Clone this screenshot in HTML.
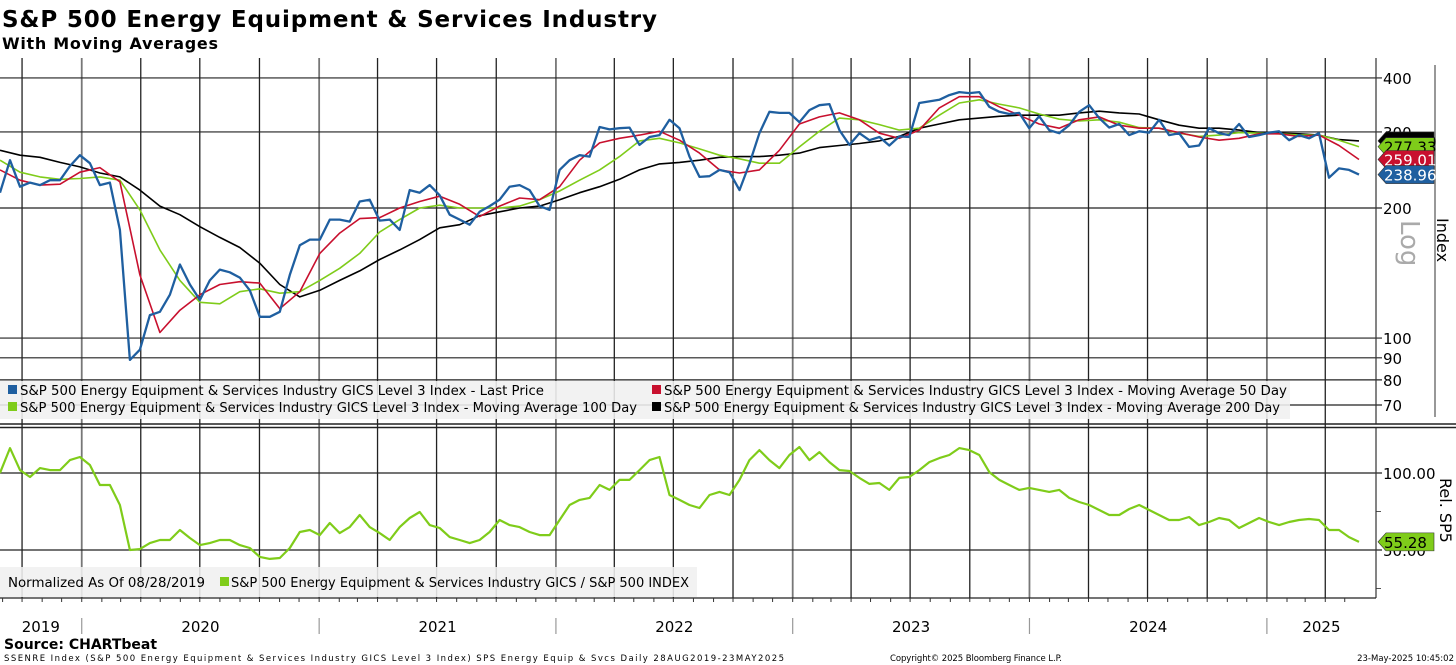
<!DOCTYPE html>
<html><head><meta charset="utf-8"><style>
html,body{margin:0;padding:0;background:#fff;}
svg{display:block;font-family:"DejaVu Sans","Liberation Sans",sans-serif;}
</style></head><body>
<svg id="chart" width="1456" height="665" viewBox="0 0 1456 665">
<text x="2" y="27" font-size="23" font-weight="bold" textLength="655">S&amp;P 500 Energy Equipment &amp; Services Industry</text>
<text x="2" y="49" font-size="16" font-weight="bold" textLength="216">With Moving Averages</text>
<g id="grid"></g>
<g id="top"></g>
<g id="bot"></g>
<g id="axes"></g>
<text x="4" y="649" font-size="14" font-weight="bold">Source: CHARTbeat</text>
<text x="4" y="661" font-size="8.5" textLength="780">SSENRE Index (S&amp;P 500 Energy Equipment &amp; Services Industry GICS Level 3 Index) SPS Energy Equip &amp; Svcs  Daily 28AUG2019-23MAY2025</text>
<text x="890" y="661" font-size="8.5" textLength="172">Copyright© 2025 Bloomberg Finance L.P.</text>
<text x="1454" y="661" font-size="8.5" text-anchor="end">23-May-2025 10:45:02</text>
</svg>
<script>
const startDate = "2019-08-28";
const endDate = "2025-05-23";
const lastPrice = [217,258,224,229,226,232,232,250,265,254,226,229,178,89,94,113,115,126,148,133,122.5,136,144,142,138,129,112,112,115,140,164,169,169,188,188,186,207,209,187,188,178,220,217,226,214,193,188,183,196,202,209,224,226,220,202,198,245,258,265,263,308,304,306,307,280,292,295,320,306,263,236,237,245,242,220,253,298,334,332,332,316,337,346,348,303,280,298,287,292,279,293,292,350,353,356,365,371,369,371,343,334,330,332,306,326,303,298,311,334,346,323,307,313,295,301,299,320,295,298,277,279,306,298,295,313,292,295,299,301,287,295,290,298,235,247,245,238.96];
const ma50 = [245,232,226,227,242,248,230,140,103,116,126,133,135,134,117,128,157,175,189,190,200,207,213,204,191,202,211,209,224,258,283,290,295,301,287,268,245,241,245,272,313,325,332,320,298,290,303,341,362,362,343,328,313,306,320,325,311,306,306,299,292,287,290,297,297,293,295,279,259.01];
const ma100 = [258,242,236,233,234,236,232,198,160,136,121,120,128,130,127,128,136,145,157,176,188,200,203,200,200,200,202,209,219,232,245,263,286,290,283,274,265,260,254,254,277,301,323,320,312,303,306,328,350,356,348,341,330,321,318,320,316,307,306,298,293,295,299,298,297,295,295,287,277.33];
const ma200 = [272,265,262,255,249,241,236,220,202,193,181,171,162,149,133,124.5,129,136,143,152,160,169,180,183,192,196,200,202,209,217,224,233,245,253,255,258,262,263,263,265,268,276,279,282,286,293,306,313,320,323,326,328,328,328,332,335,332,330,320,311,306,306,303,299,298,297,295,288,286];
const relSP5 = [100,116.2,101.9,97.4,103.2,101.9,101.9,108.4,110.4,105.2,92.2,92.2,79.2,50,50.6,54.5,56.5,56.5,63,57.8,53.2,54.5,56.5,56.5,53.2,51.3,45.5,44.2,44.8,51.3,61.7,63,59.7,67.5,61,64.9,72.7,64.9,61,56.5,64.9,70.8,74.7,66.2,64.3,58.4,56.5,54.5,56.5,61.7,69.5,66.2,64.9,61.7,59.7,59.7,69.5,79.2,82.5,83.8,92.2,89,95.5,95.5,101.9,108.4,110.4,85.7,82.5,79.2,77.3,85.7,87.7,85.7,95.5,108.4,114.9,108.4,103.2,111.7,116.9,108.4,113.6,107.1,101.9,101.3,96.8,92.9,93.5,89,96.8,97.4,101.9,107.1,109.7,111.7,116.2,114.9,111.7,100.6,95.5,92.2,89,90.3,89,87.7,89,83.8,81.2,79.2,76,72.7,72.7,76.6,79.2,76,72.7,69.5,69.5,71.4,66.2,68.2,70.8,69.5,64.3,67.5,70.8,68.2,66.2,68.2,69.5,70.1,69.5,63,63,58.4,55.28];
const priceTicks = [400,300,200,100,90,80,70];
const relTicks = [100,50];
const relMinorTicks = [75,25];
const yearLabels = ["2019","2020","2021","2022","2023","2024","2025"];

const NS="http://www.w3.org/2000/svg";
const DAY=86400000;
const t0=Date.parse(startDate), t1=Date.parse(endDate);
const pxPerDay=1359/((t1-t0)/DAY);
function xScale(ms){return (ms-t0)/DAY*pxPerDay;}
function yPrice(v){return 208-432*Math.log10(v/200);}
function yRel(v){return 473+(100-v)*77/50;}
const PR=1376;
function mk(tag,attrs,parent){const e=document.createElementNS(NS,tag);for(const k in attrs)e.setAttribute(k,attrs[k]);parent.appendChild(e);return e;}
const grid=document.getElementById('grid'),top_=document.getElementById('top'),bot=document.getElementById('bot'),axes=document.getElementById('axes');

for(let y=2019;y<=2025;y++){for(let q=0;q<4;q++){
  const ms=Date.UTC(y,q*3,1); if(ms<t0||ms>t1)continue;
  const x=xScale(ms);
  const l=mk('line',{x1:x,x2:x,y1:58,y2:598,stroke:(q===0?'#777':'#222'),'stroke-width':(q===0?1.8:1.3)},grid);
  
  
}}
priceTicks.forEach(v=>{const y=yPrice(v);
  const l=mk('line',{x1:0,x2:PR+6,y1:y,y2:y,stroke:'#222','stroke-width':1.2},grid);
  
  
  const t=mk('text',{x:PR+7,y:y+6,'font-size':15},axes);t.textContent=v;
  
  
});
relTicks.forEach(v=>{const y=yRel(v);
  const l=mk('line',{x1:0,x2:PR+6,y1:y,y2:y,stroke:'#222','stroke-width':1.2},grid);
  
  
  const t=mk('text',{x:PR+7,y:y+6,'font-size':15},axes);t.textContent=v.toFixed(2);
  
  
});
relMinorTicks.forEach(v=>{const y=yRel(v);mk('line',{x1:PR,x2:PR+5,y1:y,y2:y,stroke:'#555'},axes);});

function series(arr,yf,parent,color,w,name){
  const n=arr.length;let d='';
  arr.forEach((v,i)=>{const x=xScale(t0+(t1-t0)*i/(n-1));d+=(i?'L':'M')+x.toFixed(1)+','+yf(v).toFixed(1);});
  const p=mk('path',{d:d,fill:'none',stroke:color,'stroke-width':w,'stroke-linejoin':'round'},parent);
  
  
}
series(ma200,yPrice,top_,'#000',1.6,'ma200-line');
series(ma100,yPrice,top_,'#7fcc1a',1.6,'ma100-line');
series(ma50,yPrice,top_,'#c8102e',1.6,'ma50-line');
series(lastPrice,yPrice,top_,'#1f5fa0',2.3,'last-price-line');
series(relSP5,yRel,bot,'#7fcc1a',2.2,'relative-line');

mk('line',{x1:PR,x2:PR,y1:58,y2:424,stroke:'#333','stroke-width':1.2},axes);
mk('line',{x1:PR,x2:PR,y1:428,y2:598,stroke:'#333','stroke-width':1.2},axes);
mk('line',{x1:0,x2:1456,y1:424,y2:424,stroke:'#222','stroke-width':1.5},axes);
mk('line',{x1:0,x2:1456,y1:427.5,y2:427.5,stroke:'#222','stroke-width':1.5},axes);
mk('line',{x1:0,x2:PR,y1:598,y2:598,stroke:'#222','stroke-width':1.2},axes);
for(let y=2019;y<=2025;y++)for(let m=0;m<12;m++){const ms=Date.UTC(y,m,1);if(ms<t0||ms>t1)continue;mk('line',{x1:xScale(ms),x2:xScale(ms),y1:598,y2:602,stroke:'#333'},axes);}
mk('line',{x1:1435,x2:1435,y1:65,y2:417,stroke:'#777','stroke-width':1.5},axes);

yearLabels.forEach((yl,i)=>{const y=+yl;
  const a=Math.max(t0,Date.UTC(y,0,1)),b=Math.min(t1,Date.UTC(y+1,0,1));
  let xa=xScale(a),xb=(y===2025?PR:xScale(b));
  const t=mk('text',{x:(xa+xb)/2,y:632,'font-size':15,'text-anchor':'middle'},axes);t.textContent=yl;
  
  
  if(y>2019){mk('line',{x1:xa,x2:xa,y1:618,y2:634,stroke:'#999','stroke-width':1.2},axes);}
});

const lg=mk('g',{},axes);
mk('rect',{x:0,y:381,width:1290,height:38,fill:'rgba(240,240,240,0.88)'},lg);
const leg=[[8,390,'#1f5fa0','S&P 500 Energy Equipment & Services Industry GICS Level 3 Index - Last Price',524],
 [652,390,'#c8102e','S&P 500 Energy Equipment & Services Industry GICS Level 3 Index - Moving Average 50 Day',623],
 [8,407,'#7fcc1a','S&P 500 Energy Equipment & Services Industry GICS Level 3 Index - Moving Average 100 Day',617],
 [652,407,'#000','S&P 500 Energy Equipment & Services Industry GICS Level 3 Index - Moving Average 200 Day',616]];
leg.forEach(e=>{mk('rect',{x:e[0],y:e[1]-5,width:9,height:9,fill:e[2]},lg);
  const t=mk('text',{x:e[0]+12,y:e[1]+5,'font-size':13,textLength:e[4],lengthAdjust:'spacingAndGlyphs'},lg);t.textContent=e[3];
  
  });
const lg2=mk('g',{},axes);
mk('rect',{x:0,y:567,width:697,height:30,fill:'rgba(240,240,240,0.88)'},lg2);
let t=mk('text',{x:8,y:587,'font-size':13.5,textLength:197,lengthAdjust:'spacingAndGlyphs'},lg2);t.textContent='Normalized As Of 08/28/2019';
mk('rect',{x:220,y:577,width:9,height:9,fill:'#7fcc1a'},lg2);
t=mk('text',{x:231,y:587,'font-size':13.5,textLength:458,lengthAdjust:'spacingAndGlyphs'},lg2);t.textContent='S&P 500 Energy Equipment & Services Industry GICS / S&P 500 INDEX';

function tag(v,yf,fill,fg,name){const y=yf(v);
  const g=mk('g',{},axes);
  
  
  mk('path',{d:`M1378,${y} L1386,${y-9} L1434,${y-9} L1434,${y+9} L1386,${y+9} Z`,fill:fill,stroke:'#333','stroke-width':0.6},g);
  const tx=mk('text',{x:1384,y:y+6,'font-size':15,fill:fg},g);tx.textContent=v.toFixed(2);}
tag(ma200[ma200.length-1],yPrice,'#000','#000','ma200-value-tag');
tag(ma100[ma100.length-1],yPrice,'#7fcc1a','#000','ma100-value-tag');
tag(ma50[ma50.length-1],yPrice,'#c8102e','#fff','ma50-value-tag');
tag(lastPrice[lastPrice.length-1],yPrice,'#1f5fa0','#fff','last-price-value-tag');
tag(relSP5[relSP5.length-1],yRel,'#7fcc1a','#000','relative-value-tag');

t=mk('text',{x:0,y:0,'font-size':26,fill:'#aaa',transform:'translate(1401,220) rotate(90)'},axes);t.textContent='Log';


t=mk('text',{x:0,y:0,'font-size':16,transform:'translate(1437,218) rotate(90)'},axes);t.textContent='Index';


t=mk('text',{x:0,y:0,'font-size':16,transform:'translate(1440,478) rotate(90)'},axes);t.textContent='Rel. SP5';


</script>
</body></html>
